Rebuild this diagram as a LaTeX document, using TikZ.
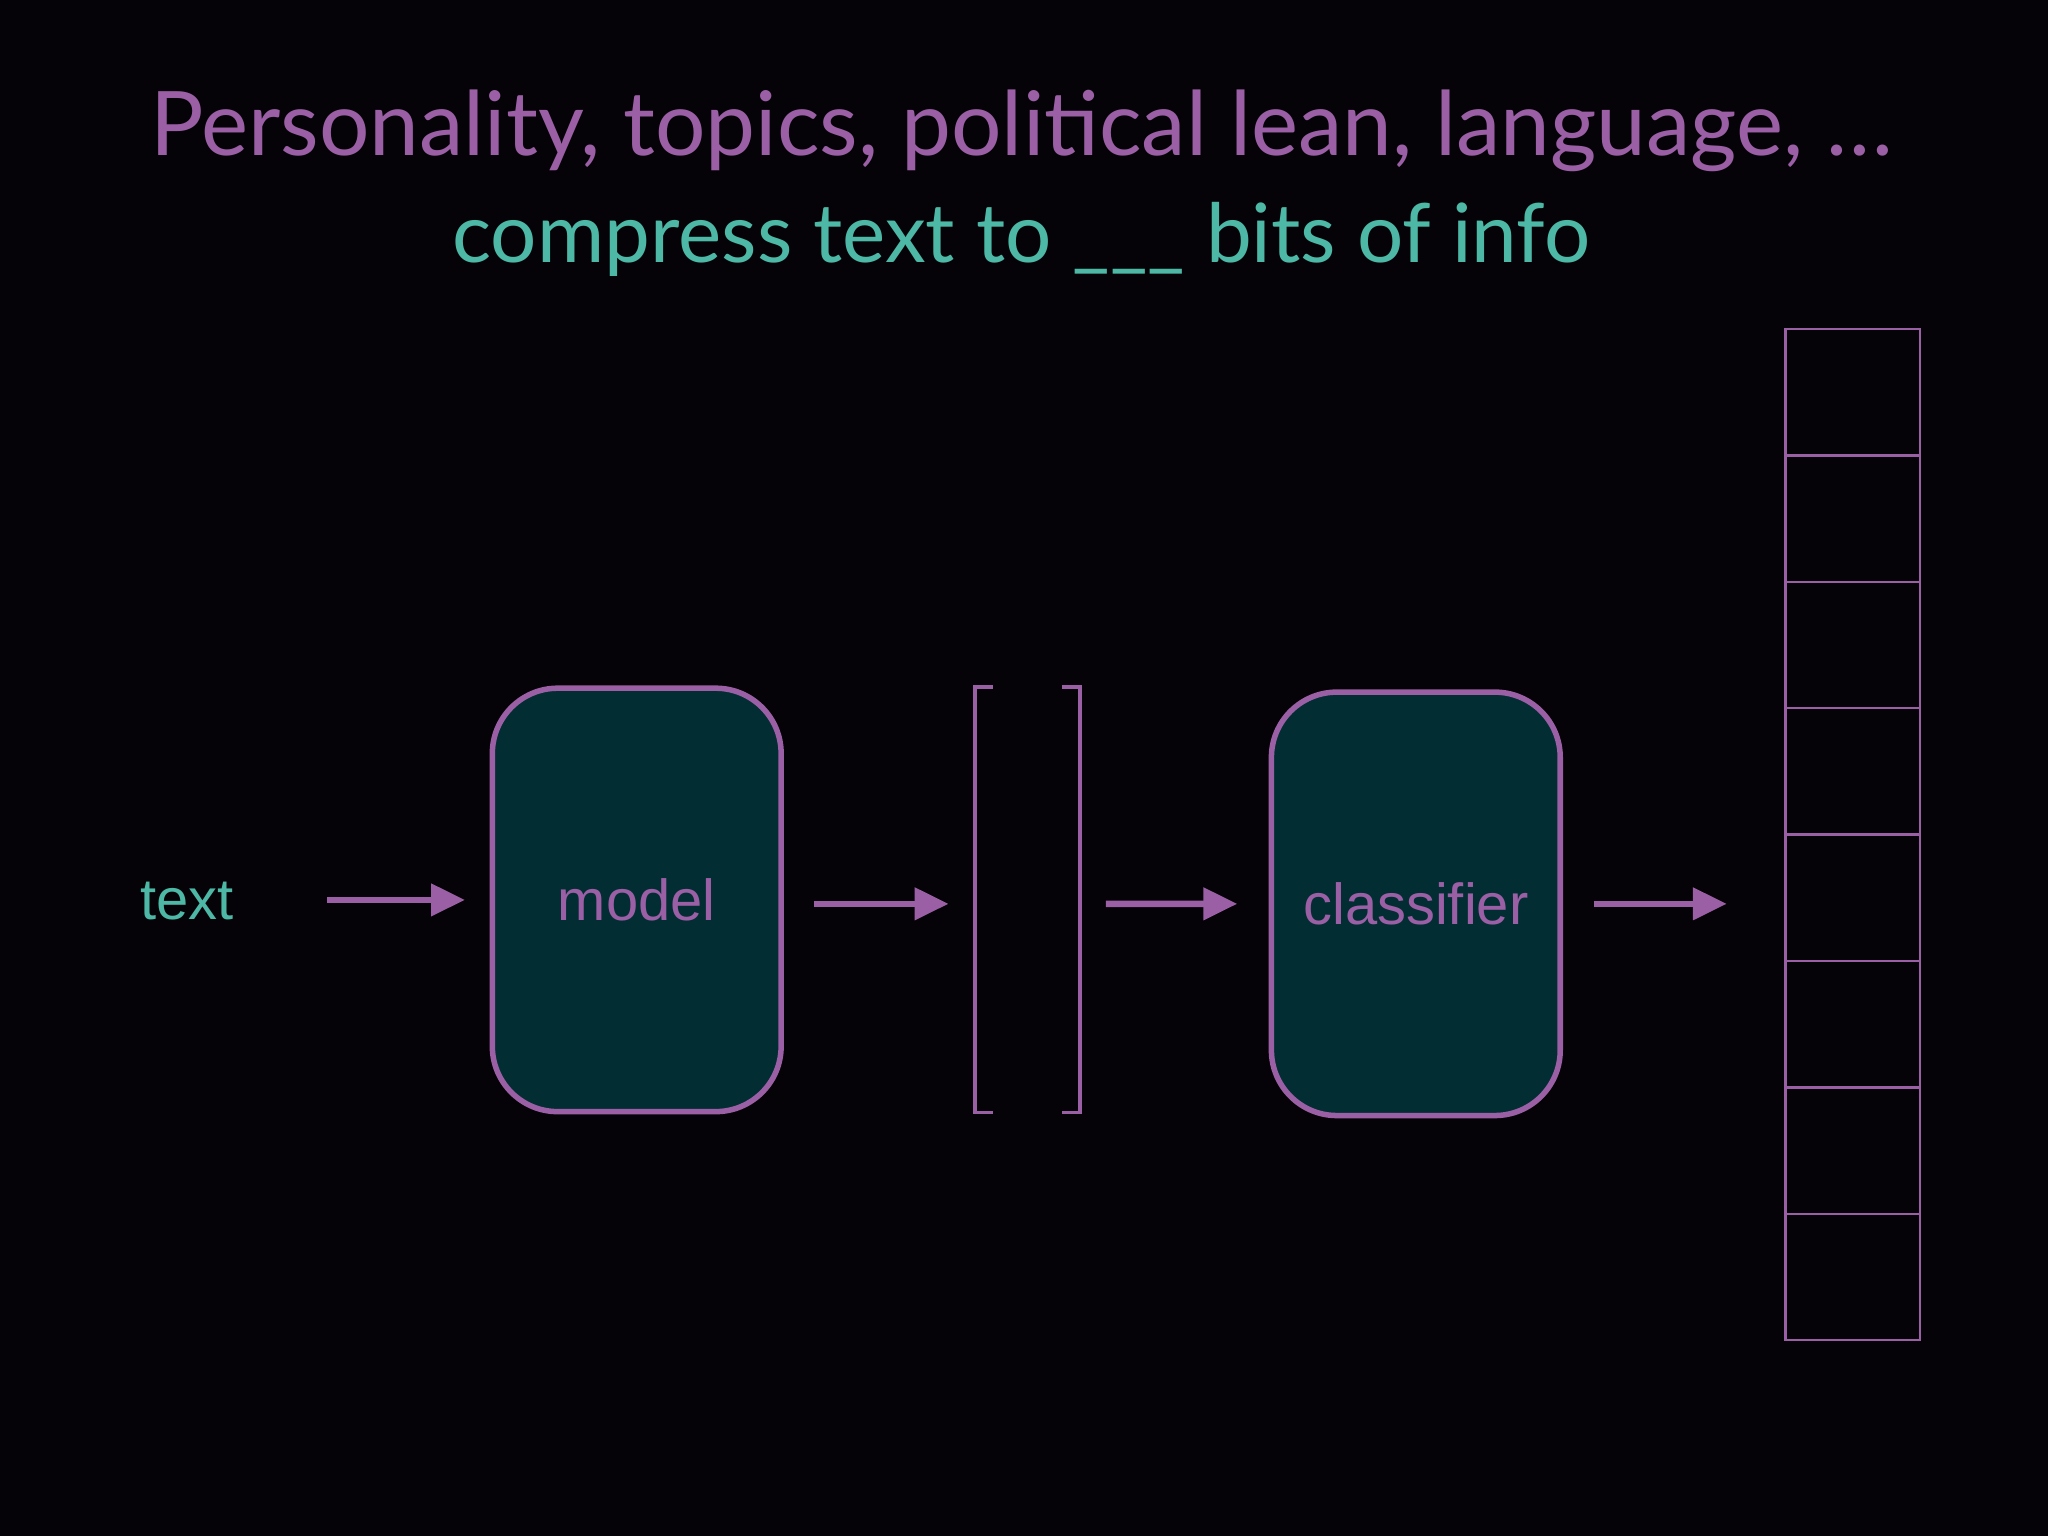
\documentclass[tikz,border=0pt]{standalone}
\usepackage{fontspec}
\setmainfont{Lato}
\newfontfamily\lbl{Liberation Sans}
\definecolor{pur}{HTML}{9A5FA4}
\definecolor{teal}{HTML}{4DB8A6}
\definecolor{boxf}{HTML}{022E33}
\definecolor{bg}{HTML}{050307}
\tikzset{
 box/.style={draw=pur,line width=1.2pt,fill=boxf,rounded corners=0.5cm,minimum width=2.21cm,minimum height=3.24cm,font=\lbl\fontsize{12.6}{14}\selectfont,text=pur},
 arr/.style={pur,line width=1.4pt,-{Triangle[length=0.26cm,width=0.24cm]}},
 cell/.style={draw=pur,line width=0.5pt,minimum width=1.03cm,minimum height=0.9675cm,inner sep=0pt}
}
\usetikzlibrary{arrows.meta}
\begin{document}
\begin{tikzpicture}[x=0.01cm,y=-0.01cm]
\fill[bg] (0,0) rectangle (1568,1176);
\useasboundingbox (0,0) rectangle (1568,1176);
\node[text=pur,font=\fontsize{19.4}{24}\selectfont] (t1) at (782,100) {Personality, topics, political lean, language, \dots};
\node[text=teal,font=\fontsize{17.8}{20}\selectfont] (t2) at (782,183) {compress text to \_\_\_ bits of info};
\node[text=teal,font=\lbl\fontsize{12.6}{14}\selectfont] (txt) at (143,690) {text};
\node[box] (model) at (487.5,689) {model};
\node[box] (cls) at (1084,692) {classifier};
\node[minimum width=0.79cm,minimum height=3.24cm,inner sep=0pt] (vec) at (786.5,689) {};
\draw[pur,line width=0.8pt] ([xshift=0.14cm]vec.north west) -| (vec.south west) -- ++(0.14cm,0);
\draw[pur,line width=0.8pt] ([xshift=-0.14cm]vec.north east) -| (vec.south east) -- ++(-0.14cm,0);
\foreach \i in {0,...,7} \node[cell] (c\i) at (1418.5,{252+48.375+96.75*\i}) {};
\coordinate (a1) at (250,689); \coordinate (a2) at (356,689);
\draw[arr] (a1) -- (a2);
\draw[arr] ([xshift=0.23cm,yshift=-0.03cm]model.east) -- ([xshift=-0.2cm,yshift=-0.03cm]vec.west);
\draw[arr] ([xshift=0.2cm,yshift=-0.03cm]vec.east) -- ([xshift=-0.24cm]cls.west);
\draw[arr] ([xshift=0.24cm]cls.east) -- ([xshift=-0.44cm]c4.west |- cls.east);
\end{tikzpicture}
\end{document}
